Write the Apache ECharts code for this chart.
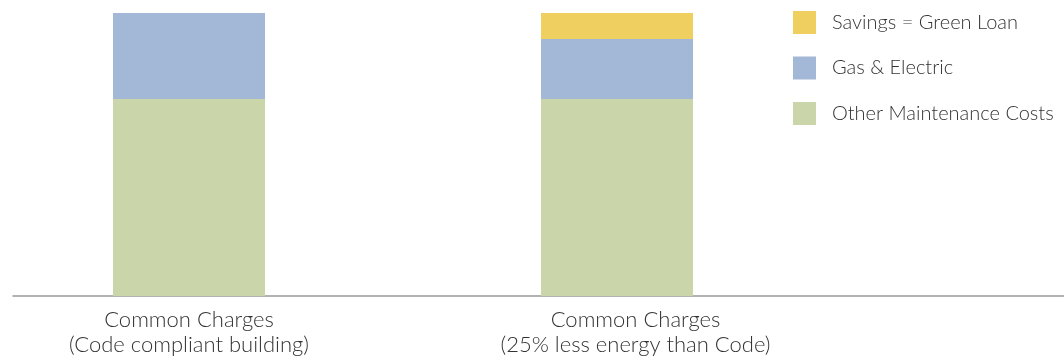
<!DOCTYPE html>
<html>
<head>
<meta charset="utf-8">
<script src="https://cdn.jsdelivr.net/npm/echarts@6/dist/echarts.min.js"></script>
<style>
  html, body { margin: 0; padding: 0; background: #fff; }
  #chart { width: 1064px; height: 358px; }
</style>
</head>
<body>
<div id="chart"></div>
<script>
// datos
const categorias = ['Common Charges\n(Code compliant building)', 'Common Charges\n(25% less energy than Code)'];
const otrosCostos = [69.6, 69.6];
const gasElectrico = [30.4, 21.2];
const ahorros = [0, 9.2];
const leyenda = ['Savings = Green Loan', 'Gas & Electric', 'Other Maintenance Costs'];

const fuente = 'Lato, "Noto Sans", sans-serif';
const estiloEtiqueta = { fontFamily: fuente, fontSize: 22, lineHeight: 25, color: '#333', fontWeight: 300 };

let myChart = echarts.init(document.getElementById('chart'));
myChart.setOption({
    animation: false,
    legend: {
        data: leyenda,
        orient: 'vertical',
        left: 793,
        top: 11,
        padding: 0,
        itemWidth: 23,
        itemHeight: 23,
        itemGap: 22.5,
        icon: 'rect',
        textStyle: { fontFamily: fuente, fontSize: 20, lineHeight: 23, color: '#333', fontWeight: 300, padding: [0, 0, 0, 11] }
    },
    grid: [
        { left: -25, width: 856, top: 13, bottom: 62, outerBoundsMode: 'none' },
        { left: 13, right: 0, top: 13, bottom: 62, outerBoundsMode: 'none' }
    ],
    xAxis: [
        {
            type: 'category',
            gridIndex: 0,
            data: categorias,
            axisLine: { show: false },
            axisTick: { show: false },
            axisLabel: {
                margin: 11,
                ...estiloEtiqueta,
                // la segunda etiqueta esta corrida un poco a la derecha en el original
                formatter: (valor, i) => valor.split('\n').map(l => (i === 1 ? '{d|' : '{n|') + l + '}').join('\n'),
                rich: {
                    n: { ...estiloEtiqueta },
                    d: { ...estiloEtiqueta, padding: [0, 0, 0, 37] }
                }
            }
        },
        {
            type: 'value',
            gridIndex: 1,
            min: 0,
            max: 1,
            axisLine: { show: true, lineStyle: { color: '#999', width: 1.5 } },
            axisTick: { show: false },
            axisLabel: { show: false },
            splitLine: { show: false }
        }
    ],
    yAxis: [
        { type: 'value', gridIndex: 0, min: 0, max: 100, show: false },
        { type: 'value', gridIndex: 1, min: 0, max: 1, show: false }
    ],
    series: [
        {
            name: 'Other Maintenance Costs',
            type: 'bar',
            stack: 'total',
            barWidth: 152,
            data: otrosCostos,
            itemStyle: { color: '#CAD6A9' }
        },
        {
            name: 'Gas & Electric',
            type: 'bar',
            stack: 'total',
            barWidth: 152,
            data: gasElectrico,
            itemStyle: { color: '#A3B7D7' }
        },
        {
            name: 'Savings = Green Loan',
            type: 'bar',
            stack: 'total',
            barWidth: 152,
            data: ahorros,
            itemStyle: { color: '#EFCF60' }
        }
    ]
});
</script>
</body>
</html>
